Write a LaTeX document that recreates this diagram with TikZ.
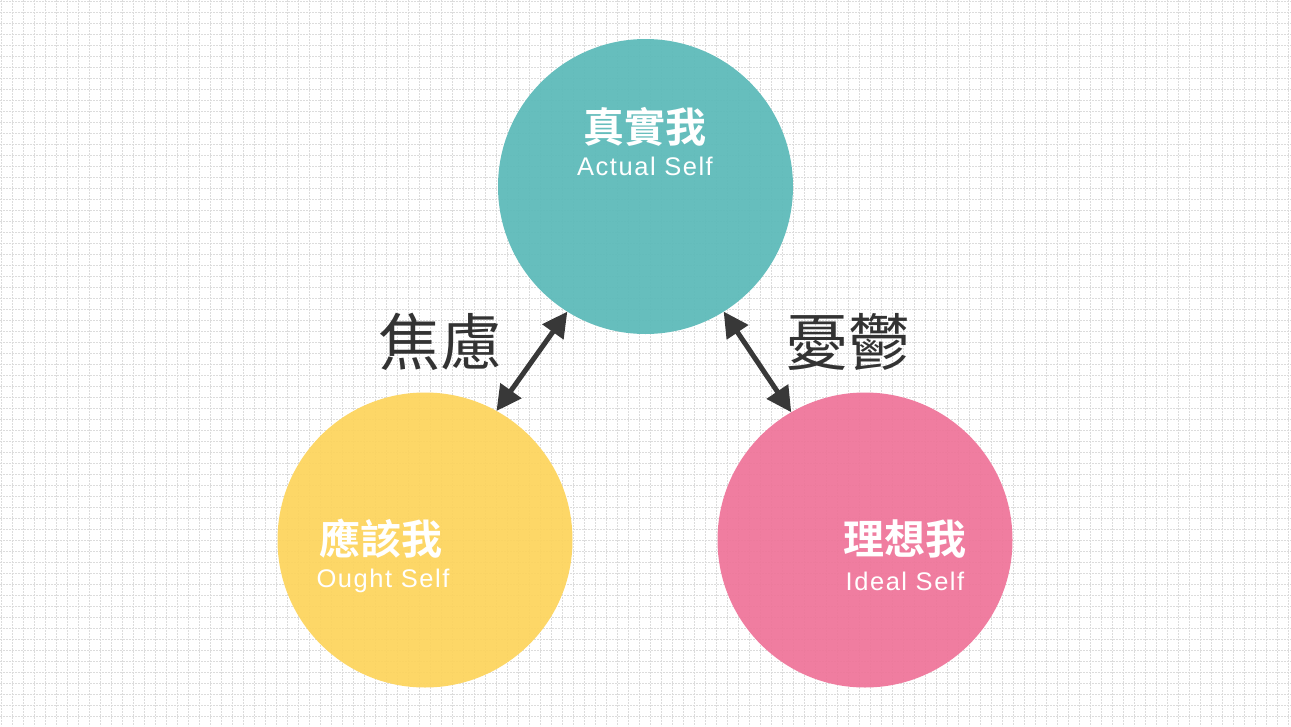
\documentclass[tikz,border=0pt]{standalone}
\usepackage{fontspec}
\usetikzlibrary{arrows.meta}
\newfontfamily\cjk{Noto Sans CJK TC}
\newfontfamily\cjkb{Noto Sans CJK TC Bold}
\newfontfamily\latn[LetterSpace=6]{Liberation Sans}
\definecolor{gridc}{HTML}{DCDCDC}
\definecolor{tealc}{HTML}{5BBAB9}
\definecolor{yellowc}{HTML}{FDD45C}
\definecolor{pinkc}{HTML}{EF7499}
\definecolor{arrc}{HTML}{383838}
\definecolor{labc}{HTML}{333333}
\tikzset{
  selfcircle/.style={circle, minimum size=295pt, inner sep=0pt, outer sep=0pt, fill opacity=0.93},
  zhname/.style={text=white, font=\cjkb\fontsize{41}{43}\selectfont, inner sep=0pt},
  enname/.style={text=white, font=\latn\fontsize{25.5}{27}\selectfont, inner sep=0pt},
  feel/.style={text=labc, font=\cjk\fontsize{62}{64}\selectfont, inner sep=0pt},
  arr/.style={draw=arrc, line width=5pt, {Triangle[length=25pt,width=25pt]}-{Triangle[length=25pt,width=25pt]}},
  gridline/.style={draw=gridc, line width=0.8pt, dash pattern=on 2pt off 1pt}
}
\begin{document}
\begin{tikzpicture}[x=1pt,y=-1pt]
\useasboundingbox (0,0) rectangle (1291,726);
\fill[white] (0,0) rectangle (1291,726);
\foreach \i in {0,...,117} { \draw[gridline] ({1+11*\i},0) -- ({1+11*\i},726); }
\foreach \j in {0,...,66} { \draw[gridline] (0,{1+11*\j}) -- (1291,{1+11*\j}); }
\node[selfcircle, fill=tealc] (actual) at (645.5,186.5) {};
\node[selfcircle, fill=yellowc] (ought) at (425,540) {};
\node[selfcircle, fill=pinkc] (ideal) at (865,540) {};
\node[zhname] (actualzh) at (645,127) {真實我};
\node[enname] (actualen) at (645,166) {Actual Self};
\node[zhname] (oughtzh) at (381,539) {應該我};
\node[enname] (oughten) at (383,581) {Ought Self};
\node[zhname] (idealzh) at (905,539) {理想我};
\node[enname] (idealen) at (905,581) {Ideal Self};
\node[feel] (anx) at (440,342) {焦慮};
\node[feel] (dep) at (848,342) {憂鬱};
\draw[arr] (ought.61) -- (actual.238);
\draw[arr] (ideal.120) -- (actual.302);
\end{tikzpicture}
\end{document}
